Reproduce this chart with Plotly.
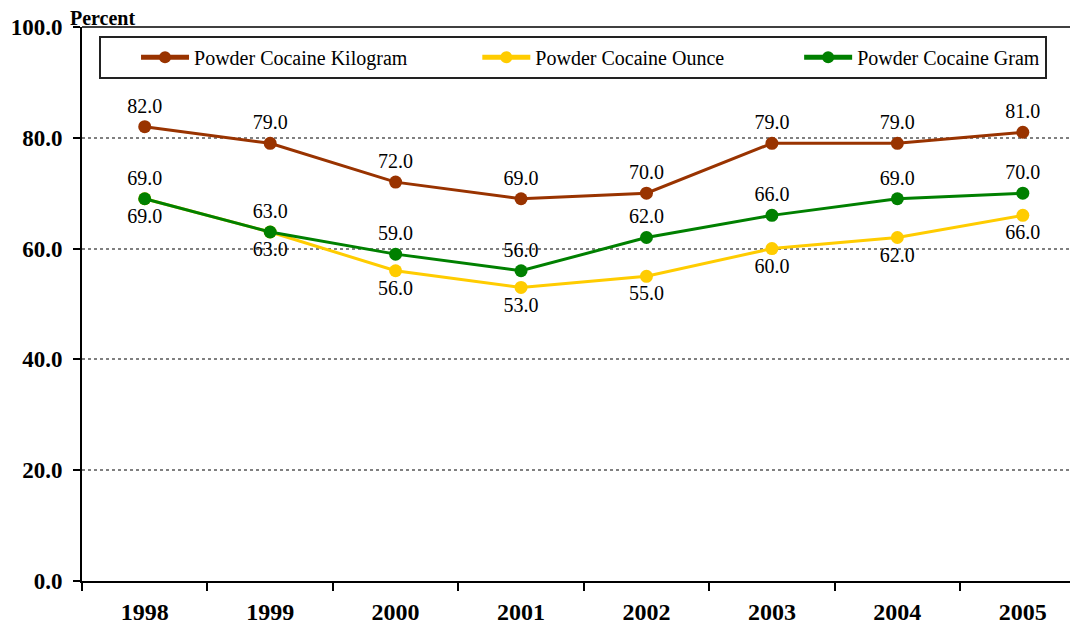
import plotly.graph_objects as go

years = ["1998", "1999", "2000", "2001", "2002", "2003", "2004", "2005"]
kilogram = [82.0, 79.0, 72.0, 69.0, 70.0, 79.0, 79.0, 81.0]
ounce = [69.0, 63.0, 56.0, 53.0, 55.0, 60.0, 62.0, 66.0]
gram = [69.0, 63.0, 59.0, 56.0, 62.0, 66.0, 69.0, 70.0]
y_ticks = [0, 20, 40, 60, 80, 100]
y_tick_text = ["0.0", "20.0", "40.0", "60.0", "80.0", "100.0"]

FONT = "Liberation Serif, Times New Roman, serif"
NB = "\u00a0"

series = [
    ("Powder Cocaine Kilogram", kilogram, "#993300", "top center", 13),
    ("Powder Cocaine Ounce", ounce, "#FFCC00", "bottom center", 14),
    ("Powder Cocaine Gram", gram, "#008000", "top center", 0),
]

fig = go.Figure()
for name, vals, color, pos, pad in series:
    fig.add_trace(go.Scatter(
        x=years, y=vals, name=name + NB * pad, mode="lines+markers+text",
        line=dict(color=color, width=3),
        marker=dict(color=color, size=13),
        text=[f"{v:.1f}" for v in vals],
        textposition=pos,
        textfont=dict(family=FONT, size=20, color="black"),
        cliponaxis=False,
    ))

fig.update_layout(
    width=1070, height=621,
    margin=dict(l=74, r=0, t=19, b=48, autoexpand=False),
    paper_bgcolor="white", plot_bgcolor="white",
    font=dict(family=FONT, color="black"),
    showlegend=True,
    legend=dict(
        orientation="h", x=0.0171, y=0.984, xanchor="left", yanchor="top",
        bordercolor="#222222", borderwidth=2, bgcolor="white",
        font=dict(family=FONT, size=20, color="black"),
        itemwidth=48, traceorder="normal", itemsizing="constant",
        title=dict(text=NB * 5, side="left", font=dict(family=FONT, size=20)),
    ),
    xaxis=dict(
        type="category", range=[-0.5, 7.44], automargin=False,
        showline=True, linecolor="black", linewidth=2,
        ticks="outside", tickson="boundaries", ticklen=8, tickcolor="black", tickwidth=2,
        ticklabelstandoff=8,
        tickfont=dict(family=FONT, size=24, color="black", weight="bold"),
        showgrid=False, mirror=False, fixedrange=True,
    ),
    yaxis=dict(
        range=[0, 100], tickvals=y_ticks, ticktext=y_tick_text, automargin=False,
        showline=True, linecolor="black", linewidth=2,
        ticks="outside", ticklen=7, tickcolor="black", tickwidth=2,
        ticklabelstandoff=6,
        tickfont=dict(family=FONT, size=23, color="black", weight="bold"),
        showgrid=True, gridcolor="#808080", griddash="dot", gridwidth=1.5,
        zeroline=False,
    ),
    annotations=[dict(
        text="<b>Percent</b>", xref="paper", yref="paper", x=-0.014, y=1.0,
        xanchor="left", yanchor="bottom", showarrow=False,
        font=dict(family=FONT, size=20, color="black"), yshift=-4,
    )],
    shapes=[dict(type="line", xref="paper", yref="paper", x0=0, x1=1, y0=1, y1=1,
                 line=dict(color="black", width=1.5))],
)

fig.write_html("out.html")
